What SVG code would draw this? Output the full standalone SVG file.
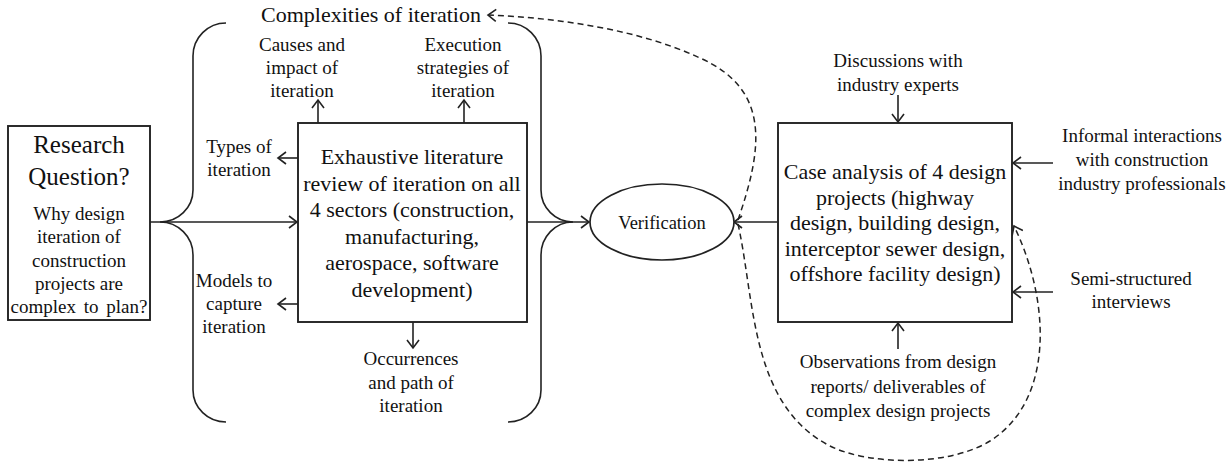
<svg xmlns="http://www.w3.org/2000/svg" width="1227" height="465" viewBox="0 0 1227 465">
<style>
text{font-family:"Liberation Serif","Times New Roman",serif;fill:#111;text-anchor:middle}
.big{font-size:22px}
.lbl{font-size:19px}
.box{fill:#fff;stroke:#222;stroke-width:1.9}
.ln{fill:none;stroke:#222;stroke-width:1.6}
.dash{fill:none;stroke:#222;stroke-width:1.5;stroke-dasharray:6,4}
</style>
<defs>
<marker id="arr" markerUnits="userSpaceOnUse" markerWidth="12" markerHeight="14" viewBox="0 0 12 14" refX="10" refY="7" orient="auto">
<path d="M2,1 L10,7 L2,13" fill="none" stroke="#222" stroke-width="1.6" stroke-dasharray="none"/>
</marker>
</defs>
<rect width="1227" height="465" fill="#fff"/>

<g id="connectors">
<path class="ln" d="M226,23 A33,33 0 0 0 193,56 L193,190 A33,32 0 0 1 160,222 A33,33 0 0 1 193,255 L193,390 A33,32 0 0 0 226,422"/>
<path class="ln" d="M508,23 A33,33 0 0 1 541,56 L541,190 A32,32 0 0 0 573,222 A32,33 0 0 0 541,255 L541,390 A33,32 0 0 1 508,422"/>
<path class="ln" d="M150,222 L297,222" marker-end="url(#arr)"/>
<path class="ln" d="M527,222 L589,222" marker-end="url(#arr)"/>
<path class="ln" d="M777,222 L734,222" marker-end="url(#arr)"/>
<path class="ln" d="M318,123 L318,100" marker-end="url(#arr)"/>
<path class="ln" d="M464,123 L464,100" marker-end="url(#arr)"/>
<path class="ln" d="M298,158 L278,158" marker-end="url(#arr)"/>
<path class="ln" d="M298,304 L278,304" marker-end="url(#arr)"/>
<path class="ln" d="M413,322 L413,348" marker-end="url(#arr)"/>
<path class="ln" d="M898,95 L898,122" marker-end="url(#arr)"/>
<path class="ln" d="M1053,163 L1013,163" marker-end="url(#arr)"/>
<path class="ln" d="M1053,292 L1013,292" marker-end="url(#arr)"/>
<path class="ln" d="M898,349 L898,323" marker-end="url(#arr)"/>
<path class="dash" d="M738,220 C762,150 772,90 700,58 C640,30 560,18 488,15" marker-end="url(#arr)"/>
<path class="dash" d="M738,224 C755,300 750,405 830,446 C870,466 950,466 990,441 C1055,400 1050,300 1014,226" marker-end="url(#arr)"/>
</g>

<g id="research-question">
<rect class="box" x="8" y="126" width="142" height="194"/>
<text x="79" y="153" font-size="25">Research</text>
<text x="79" y="185" font-size="25">Question?</text>
<text class="lbl" x="79" y="220">Why design</text>
<text class="lbl" x="79" y="243">iteration of</text>
<text class="lbl" x="79" y="267">construction</text>
<text class="lbl" x="79" y="290">projects are</text>
<text class="lbl" x="79" y="313" word-spacing="3">complex to plan?</text>
</g>

<g id="literature-review">
<rect class="box" x="298" y="123" width="229" height="199"/>
<text class="big" x="412" y="164">Exhaustive literature</text>
<text class="big" x="412" y="190.5">review of iteration on all</text>
<text class="big" x="412" y="217">4 sectors (construction,</text>
<text class="big" x="412" y="243.5">manufacturing,</text>
<text class="big" x="412" y="270">aerospace, software</text>
<text class="big" x="412" y="296.5">development)</text>
</g>

<g id="complexities">
<text class="big" x="371" y="22">Complexities of iteration</text>
</g>
<g id="causes">
<text class="lbl" x="302" y="51">Causes and</text>
<text class="lbl" x="302" y="74">impact of</text>
<text class="lbl" x="302" y="97">iteration</text>
</g>
<g id="execution">
<text class="lbl" x="463" y="51">Execution</text>
<text class="lbl" x="463" y="74">strategies of</text>
<text class="lbl" x="463" y="97">iteration</text>
</g>
<g id="types">
<text class="lbl" x="239" y="153">Types of</text>
<text class="lbl" x="239" y="176">iteration</text>
</g>
<g id="models">
<text class="lbl" x="234" y="287">Models to</text>
<text class="lbl" x="234" y="310">capture</text>
<text class="lbl" x="234" y="333">iteration</text>
</g>
<g id="occurrences">
<text class="lbl" x="411" y="365">Occurrences</text>
<text class="lbl" x="411" y="389">and path of</text>
<text class="lbl" x="411" y="412">iteration</text>
</g>

<g id="verification">
<ellipse cx="662" cy="222" rx="72" ry="38" fill="#fff" stroke="#222" stroke-width="1.7"/>
<text x="662" y="229" font-size="18.5">Verification</text>
</g>

<g id="case-analysis">
<rect class="box" x="778" y="123" width="234" height="199"/>
<text class="big" x="895" y="179">Case analysis of 4 design</text>
<text class="big" x="895" y="204.5">projects (highway</text>
<text class="big" x="895" y="230">design, building design,</text>
<text class="big" x="895" y="255.5">interceptor sewer design,</text>
<text class="big" x="895" y="281">offshore facility design)</text>
</g>

<g id="discussions">
<text class="lbl" x="898" y="67">Discussions with</text>
<text class="lbl" x="898" y="91">industry experts</text>
</g>
<g id="informal">
<text class="lbl" x="1142" y="142">Informal interactions</text>
<text class="lbl" x="1142" y="166">with construction</text>
<text class="lbl" x="1142" y="190">industry professionals</text>
</g>
<g id="semi-structured">
<text class="lbl" x="1131" y="285">Semi-structured</text>
<text class="lbl" x="1131" y="308">interviews</text>
</g>
<g id="observations">
<text class="lbl" x="898" y="368">Observations from design</text>
<text class="lbl" x="898" y="393">reports/ deliverables of</text>
<text class="lbl" x="898" y="417">complex design projects</text>
</g>
</svg>
